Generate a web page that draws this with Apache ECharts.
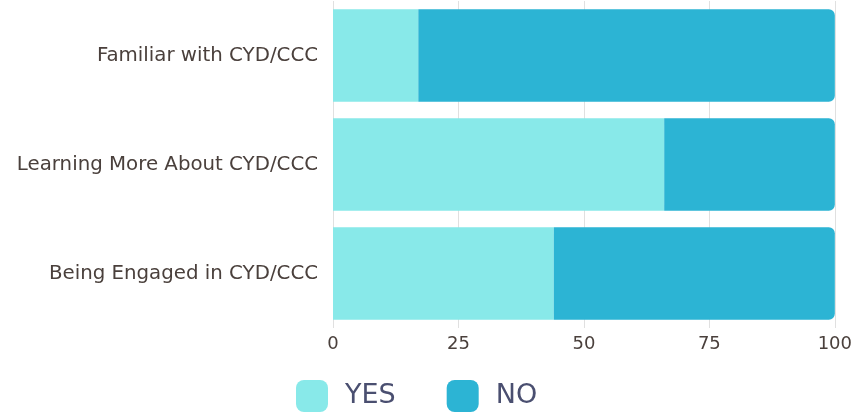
<!DOCTYPE html>
<html><head><meta charset="utf-8">
<script src="https://cdn.jsdelivr.net/npm/echarts@6/dist/echarts.min.js"></script>
<style>html,body{margin:0;padding:0;background:#fff}#c{width:855px;height:415px}</style>
</head><body><div id="c"></div>
<script>
const categories = ["Familiar with CYD/CCC", "Learning More About CYD/CCC", "Being Engaged in CYD/CCC"];
const yesValues = [17, 66, 44];
const noValues = [83, 34, 56];
const seriesNames = ["YES", "NO"];
const xTicks = [0, 25, 50, 75, 100];

const chart = echarts.init(document.getElementById('c'), null, {renderer: 'canvas'});
chart.setOption({
  animation: false,
  grid: {left: 333, right: 18, top: 1, bottom: 87, containLabel: false},
  legend: {
    data: seriesNames, left: 291, top: 375, itemWidth: 32, itemHeight: 32, itemGap: 51,
    icon: 'roundRect',
    textStyle: {fontFamily: 'DejaVu Sans', fontSize: 27, color: '#4a4f70', padding: [0, 0, 0, 12]}
  },
  xAxis: {
    type: 'value', min: xTicks[0], max: xTicks[xTicks.length - 1], interval: 25,
    axisLine: {show: false}, axisTick: {show: false},
    splitLine: {lineStyle: {color: '#e0e0e0', width: 1}},
    axisLabel: {fontFamily: 'DejaVu Sans', fontSize: 18, color: '#4a403c', margin: 7}
  },
  yAxis: {
    type: 'category', data: categories, inverse: true,
    axisLine: {show: false}, axisTick: {show: false},
    axisLabel: {fontFamily: 'DejaVu Sans', fontSize: 19.8, color: '#4a403c', margin: 15}
  },
  series: [
    {name: seriesNames[0], type: 'bar', stack: 's', data: yesValues, barCategoryGap: '15%',
     itemStyle: {color: '#88e9e9', borderRadius: [0, 0, 0, 0]}},
    {name: seriesNames[1], type: 'bar', stack: 's', data: noValues, barCategoryGap: '15%',
     itemStyle: {color: '#2cb4d4', borderRadius: [0, 6, 6, 0]}}
  ]
});
</script></body></html>
